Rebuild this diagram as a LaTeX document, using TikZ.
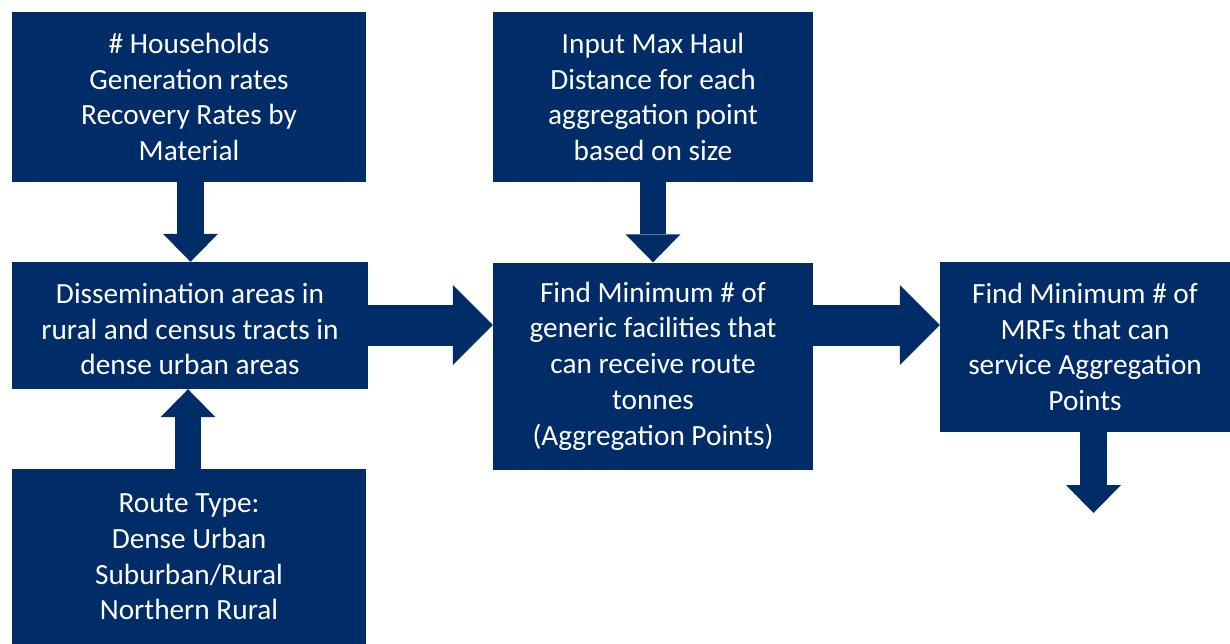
\documentclass[tikz,border=0pt]{standalone}
\usepackage{fontspec}
\setmainfont{Carlito}
\usetikzlibrary{arrows.meta}
\definecolor{navy}{RGB}{0,44,104}
\tikzset{
  boxfont/.style={text=white, align=center, font=\fontsize{29.3}{35.8}\selectfont},
  box/.style={fill=navy, draw=none, inner sep=0pt, boxfont},
  vblockarrow/.style={draw=navy, line width=26.5pt,
    -{Triangle[width=55pt,length=28pt,line width=0pt]}},
  hblockarrow/.style={draw=navy, line width=41pt,
    -{Triangle[width=80pt,length=40pt,line width=0pt]}},
}
\begin{document}
\begin{tikzpicture}[x=1pt,y=-1pt]
\useasboundingbox (0,0) rectangle (1230,644);
\node[box, minimum width=354pt, minimum height=170pt] (A) at (189,97)
  {\# Households\\Generation rates\\Recovery Rates by\\Material};
\node[box, minimum width=356pt, minimum height=127pt,
  label={[boxfont, yshift=-3.5pt]center:Dissemination areas in\\rural and census tracts in\\dense urban areas}] (B) at (190,325.5) {};
\node[box, minimum width=354pt, minimum height=176pt] (C) at (189,557)
  {Route Type:\\Dense Urban\\Suburban/Rural\\Northern Rural};
\node[box, minimum width=320pt, minimum height=170pt] (D) at (653,97)
  {Input Max Haul\\Distance for each\\aggregation point\\based on size};
\node[box, minimum width=320pt, minimum height=207pt] (E) at (653,366)
  {Find Minimum \# of\\generic facilities that\\can receive route\\tonnes\\(Aggregation Points)};
\node[box, minimum width=290pt, minimum height=170pt] (F) at (1085,347)
  {Find Minimum \# of\\MRFs that can\\service Aggregation\\Points};
\coordinate (Fend) at (1093.5,513);
\draw[vblockarrow] ([xshift=1.5pt]A.south) -- ([xshift=1.5pt]A.south |- B.north);
\draw[vblockarrow] ([xshift=-1pt]C.north) -- ([xshift=-1pt]C.north |- B.south);
\draw[vblockarrow] (D.south) -- (E.north);
\draw[hblockarrow] ([yshift=0.5pt]B.east) -- ([yshift=0.5pt]B.east -| E.west);
\draw[hblockarrow] ([yshift=0.5pt]B.east -| E.east) -- ([yshift=0.5pt]B.east -| F.west);
\draw[vblockarrow] (Fend |- F.south) -- (Fend);
\end{tikzpicture}
\end{document}
